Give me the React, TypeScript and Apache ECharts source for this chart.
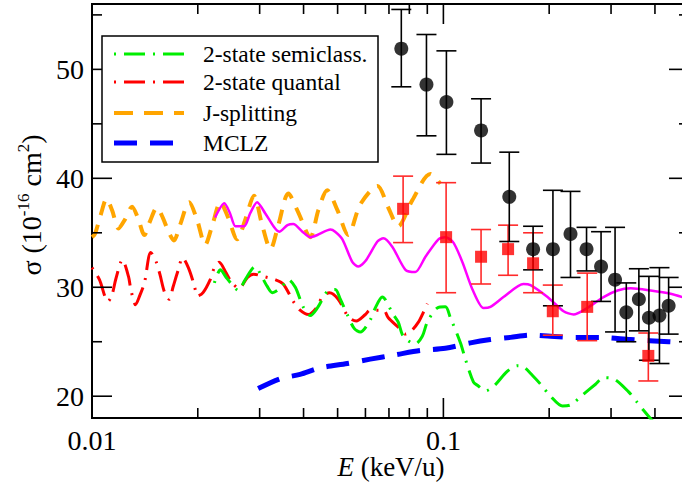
import React, { useEffect, useRef } from "react";
import * as echarts from "echarts";

const FONT = "'Liberation Serif', 'DejaVu Serif', 'Times New Roman', serif";

const X_MIN = 0.01;
const X_MAX = 0.5;
const Y_MIN = 18;
const Y_MAX = 56;

// Tick positions: [value, tick length in px]
const xTicks: [number, number][] = [
  [0.02, 10], [0.03, 10], [0.04, 10], [0.05, 10], [0.06, 10], [0.07, 10], [0.08, 10], [0.09, 10],
  [0.1, 20], [0.2, 10], [0.3, 10], [0.4, 10],
];
const yTicks: [number, number][] = [
  [20, 20], [25, 10], [30, 20], [35, 10], [40, 20], [45, 10], [50, 20], [55, 10],
];

// Cross sections, E (keV/u) vs sigma (1e-16 cm^2)
const semiclassical: [number, number][] = [
  [0.0223, 30.4], [0.0232, 31.6], [0.0241, 30.9], [0.0251, 30.2], [0.0261, 29.7], [0.0273, 30.7],
  [0.0291, 31.9], [0.0305, 30.9], [0.0315, 30.1], [0.0326, 29.5], [0.0346, 30.0], [0.0362, 30.7],
  [0.0379, 30.0], [0.0399, 28.2], [0.0418, 27.4], [0.0438, 28.1], [0.0467, 29.6], [0.0492, 29.8],
  [0.0509, 28.9], [0.0536, 27.3], [0.0558, 26.2], [0.058, 25.9], [0.0619, 27.0], [0.064, 28.1],
  [0.067, 29.1], [0.072, 27.5], [0.0744, 26.8], [0.0769, 25.5], [0.0832, 24.8], [0.0871, 25.5],
  [0.09, 26.8], [0.0961, 28.1], [0.1013, 28.2], [0.1047, 27.2], [0.1118, 24.9], [0.1155, 23.4],
  [0.1218, 21.3], [0.125, 21.0], [0.1318, 20.5], [0.1389, 20.9], [0.1522, 22.3], [0.1625, 22.8],
  [0.169, 22.7], [0.1793, 21.9], [0.189, 21.1], [0.2018, 20.0], [0.2183, 19.1], [0.2301, 19.2],
  [0.2506, 20.2], [0.271, 21.1], [0.2856, 21.7], [0.305, 21.6], [0.3366, 20.4], [0.3548, 19.5],
  [0.369, 18.8], [0.4018, 17.4],
];

const quantal: [number, number][] = [
  [0.01, 31.8], [0.0105, 30.7], [0.0109, 29.1], [0.0111, 28.7], [0.0114, 29.3], [0.0117, 30.8],
  [0.0122, 32.5], [0.0127, 31.0], [0.0129, 29.8], [0.0133, 28.4], [0.0137, 29.3], [0.0141, 30.4],
  [0.0147, 33.2], [0.0152, 32.4], [0.0156, 31.2], [0.0161, 29.5], [0.0166, 28.9], [0.017, 30.0],
  [0.0176, 31.6], [0.0181, 32.7], [0.0188, 31.8], [0.0195, 30.3], [0.02, 29.2], [0.0207, 29.5],
  [0.0217, 30.7], [0.0223, 31.8], [0.023, 32.3], [0.0241, 31.3], [0.0249, 30.5], [0.0262, 29.9],
  [0.0277, 30.9], [0.0288, 31.2], [0.0307, 31.0], [0.0332, 30.7], [0.035, 30.3], [0.0374, 28.7],
  [0.0391, 27.9], [0.0413, 27.5], [0.0435, 28.1], [0.0452, 29.1], [0.0474, 29.5], [0.0502, 28.9],
  [0.0536, 27.3], [0.0565, 26.9], [0.06, 27.5], [0.0619, 27.9], [0.0675, 27.9], [0.0697, 27.2],
  [0.074, 26.4], [0.078, 25.7], [0.0811, 26.0], [0.0849, 26.8], [0.0877, 27.7], [0.09, 28.5],
];

const jSplitting: [number, number][] = [
  [0.01, 34.6], [0.0102, 34.9], [0.0106, 36.7], [0.011, 38.1], [0.0114, 37.1], [0.0119, 35.4],
  [0.0124, 36.2], [0.013, 37.4], [0.0135, 36.4], [0.0141, 34.8], [0.0146, 36.0], [0.0153, 37.3],
  [0.0159, 36.4], [0.0165, 35.1], [0.0171, 34.3], [0.0178, 35.7], [0.0189, 37.8], [0.0199, 36.2],
  [0.021, 33.9], [0.022, 35.7], [0.0232, 37.8], [0.0244, 36.4], [0.0259, 34.4], [0.0273, 36.2],
  [0.0289, 38.4], [0.0305, 35.7], [0.0322, 33.5], [0.0339, 35.7], [0.0362, 38.6], [0.0386, 36.9],
  [0.0418, 34.6], [0.0441, 37.1], [0.0467, 38.9], [0.0499, 37.1], [0.0536, 34.8], [0.058, 37.6],
  [0.0649, 39.3], [0.0697, 37.3], [0.0744, 35.6], [0.0816, 38.0], [0.0918, 40.4], [0.0981, 39.5],
];

const mclz: [number, number][] = [
  [0.0297, 20.7], [0.0343, 21.6], [0.0391, 22.0], [0.0446, 22.6], [0.0533, 23.0], [0.0619, 23.4],
  [0.073, 23.8], [0.086, 24.2], [0.1013, 24.4], [0.1194, 24.9], [0.1361, 25.2], [0.1552, 25.4],
  [0.177, 25.6], [0.2018, 25.5], [0.2378, 25.4], [0.2801, 25.4], [0.341, 25.2], [0.4375, 25.0],
  [0.5, 24.9],
];

const fullCalc: [number, number][] = [
  [0.0224, 36.4], [0.0238, 37.7], [0.0247, 36.8], [0.0256, 35.6], [0.0271, 35.6], [0.0282, 36.8],
  [0.0295, 37.8], [0.0311, 36.8], [0.033, 35.5], [0.0341, 35.1], [0.036, 35.7], [0.0374, 35.8],
  [0.0397, 35.1], [0.0418, 34.6], [0.0438, 34.8], [0.0477, 35.3], [0.0492, 35.1], [0.0516, 34.4],
  [0.0551, 32.3], [0.0573, 31.9], [0.06, 32.4], [0.0649, 34.2], [0.0675, 34.5], [0.0716, 33.7],
  [0.078, 31.6], [0.0832, 31.4], [0.0889, 32.8], [0.0968, 34.4], [0.1013, 34.6], [0.1068, 34.1],
  [0.1133, 32.3], [0.121, 29.8], [0.13, 28.1], [0.1361, 28.2], [0.1482, 29.1], [0.169, 30.3],
  [0.177, 30.2], [0.1979, 29.1], [0.2198, 27.8], [0.2347, 27.5], [0.2539, 28.0], [0.2856, 29.1],
  [0.3131, 29.7], [0.341, 29.9], [0.3888, 29.7], [0.4434, 29.4], [0.5, 28.9],
];

// Measurements: [E, sigma, lower, upper]
const expBlack: [number, number, number, number][] = [
  [0.0759, 51.9, 48.4, 55.5], [0.0895, 48.6, 43.9, 53.2], [0.102, 47.0, 42.2, 51.7],
  [0.128, 44.4, 41.4, 47.3], [0.154, 38.3, 34.2, 42.4], [0.18, 33.5, 31.6, 35.6],
  [0.205, 33.5, 28.3, 38.9], [0.23, 34.9, 30.9, 38.8], [0.2555, 33.5, 31.5, 35.5],
  [0.281, 31.9, 28.7, 35.1], [0.308, 30.7, 25.9, 35.5], [0.3315, 27.7, 25.0, 30.4],
  [0.36, 28.9, 26.0, 31.7], [0.3845, 27.2, 23.3, 31.0], [0.412, 27.4, 23.0, 31.8],
  [0.4375, 28.3, 25.7, 30.9],
];

const expRed: [number, number, number, number][] = [
  [0.0768, 37.2, 34.1, 40.2], [0.1018, 34.6, 29.5, 39.6], [0.128, 32.8, 30.3, 35.3],
  [0.1528, 33.5, 31.1, 35.7], [0.18, 32.2, 29.5, 35.0], [0.2048, 27.8, 25.6, 30.2],
  [0.2566, 28.2, 25.1, 31.3], [0.383, 23.7, 21.4, 25.8],
];

const DOT_DASH = [2, 8, 21, 8];

function curve(name: string, data: [number, number][], color: string, width: number, dash: any, smooth: number) {
  return {
    type: "line",
    name,
    data,
    showSymbol: false,
    symbol: "none",
    smooth,
    clip: true,
    silent: true,
    z: 2,
    lineStyle: { color, width, type: dash, cap: "butt", join: "round" },
  };
}

function errorBars(rows: [number, number, number, number][], color: string) {
  return {
    type: "custom",
    silent: true,
    z: 3,
    data: rows.map((r) => [r[0], r[2], r[3]]),
    encode: { x: 0, y: [1, 2] },
    renderItem: (_p: any, api: any) => {
      const x = api.value(0);
      const lo = api.coord([x, api.value(1)]);
      const hi = api.coord([x, api.value(2)]);
      const w = 10;
      const style = { stroke: color, lineWidth: 1.6 };
      return {
        type: "group",
        children: [
          { type: "line", shape: { x1: lo[0], y1: lo[1], x2: hi[0], y2: hi[1] }, style },
          { type: "line", shape: { x1: lo[0] - w, y1: lo[1], x2: lo[0] + w, y2: lo[1] }, style },
          { type: "line", shape: { x1: hi[0] - w, y1: hi[1], x2: hi[0] + w, y2: hi[1] }, style },
        ],
      };
    },
  };
}

const legendRows = [
  { label: "2-state semiclass.", color: "#00ee00", width: 3, dash: DOT_DASH, y: 54 },
  { label: "2-state quantal", color: "#ff0000", width: 3, dash: DOT_DASH, y: 82 },
  { label: "J-splitting", color: "#ffa500", width: 4, dash: [19, 11], y: 113 },
  { label: "MCLZ", color: "#0000ff", width: 5, dash: [23, 13], y: 143 },
];

export default function App() {
  const ref = useRef<HTMLDivElement>(null);

  useEffect(() => {
    document.body.style.margin = "0";
    const chart = echarts.init(ref.current!, null, { renderer: "svg" });

    const legendGraphics: any[] = [
      {
        type: "rect",
        z: 100,
        shape: { x: 102, y: 36, width: 276, height: 126 },
        style: { fill: "#fff", stroke: "#000", lineWidth: 1.5 },
      },
    ];
    legendRows.forEach((r) => {
      legendGraphics.push({
        type: "line",
        z: 101,
        shape: { x1: 114, y1: r.y, x2: 184, y2: r.y },
        style: { stroke: r.color, lineWidth: r.width, lineDash: r.dash, lineCap: "butt" },
      });
      legendGraphics.push({
        type: "text",
        z: 101,
        x: 203,
        y: r.y,
        style: { text: r.label, fontSize: 23.5, fontFamily: FONT, fill: "#000", verticalAlign: "middle", align: "left" },
      });
    });

    const option: any = {
      animation: false,
      grid: {
        left: 92,
        right: -7,
        top: 4,
        bottom: 66,
        outerBoundsMode: "none",
        containLabel: false,
        show: true,
        borderColor: "#000",
        borderWidth: 2,
        backgroundColor: "transparent",
      },
      xAxis: {
        type: "log",
        logBase: 10,
        min: X_MIN,
        max: X_MAX,
        axisLine: { show: false },
        axisTick: { show: false },
        splitLine: { show: false },
        minorTick: { show: false },
        axisLabel: {
          showMinLabel: true,
          showMaxLabel: false,
          margin: 8,
          fontSize: 28,
          fontFamily: FONT,
          color: "#000",
          formatter: (v: number) =>
            Math.abs(v - 0.01) < 1e-7 ? "0.01" : Math.abs(v - 0.1) < 1e-6 ? "0.1" : "",
        },
      },
      yAxis: {
        type: "value",
        min: Y_MIN,
        max: Y_MAX,
        axisLine: { show: false },
        axisTick: { show: false },
        splitLine: { show: false },
        axisLabel: {
          margin: 8,
          fontSize: 28,
          fontFamily: FONT,
          color: "#000",
          showMinLabel: false,
          showMaxLabel: false,
          formatter: (v: number) => (Math.abs(v % 10) < 1e-6 ? String(v) : ""),
        },
      },
      graphic: [
        {
          type: "text",
          x: 30,
          y: 205,
          rotation: Math.PI / 2,
          style: {
            text: "{a|σ (10}{s|-16}{a| cm}{s|2}{a|)}",
            align: "center",
            verticalAlign: "middle",
            rich: {
              a: { fontSize: 28, fontFamily: FONT, lineHeight: 30, fill: "#000", verticalAlign: "bottom" },
              s: { fontSize: 17, fontFamily: FONT, lineHeight: 17, fill: "#000", verticalAlign: "top" },
            },
          },
        },
        {
          type: "text",
          x: 391,
          y: 467,
          style: {
            text: "{i|E} {a|(keV/u)}",
            align: "center",
            verticalAlign: "middle",
            rich: {
              i: { fontSize: 27, fontFamily: FONT, fontStyle: "italic", fill: "#000" },
              a: { fontSize: 27, fontFamily: FONT, fill: "#000" },
            },
            fontSize: 27,
            fontFamily: FONT,
            fill: "#000",
          },
        },
        ...legendGraphics,
      ],
      series: [
        curve("J-splitting", jSplitting, "#ffa500", 4, [14, 10], 0.3),
        curve("2-state quantal", quantal, "#ff0000", 3, DOT_DASH, 0.3),
        curve("2-state semiclass.", semiclassical, "#00ee00", 3, DOT_DASH, 0.3),
        curve("MCLZ", mclz, "#0000ff", 5, [23, 13], 0.3),
        curve("full", fullCalc, "#ff00ff", 2.5, "solid", 0.25),
        errorBars(expRed, "#ff2a2a"),
        errorBars(expBlack, "#000"),
        {
          type: "scatter",
          silent: true,
          z: 4,
          symbol: "rect",
          symbolSize: 12,
          itemStyle: { color: "#ff0000" },
          data: expRed.map((r) => [r[0], r[1]]),
        },
        {
          type: "scatter",
          silent: true,
          z: 4,
          symbol: "circle",
          symbolSize: 14,
          itemStyle: { color: "#000" },
          data: expBlack.map((r) => [r[0], r[1]]),
        },
        {
          type: "custom",
          silent: true,
          z: 5,
          data: xTicks.map((t) => [t[0], Y_MIN, t[1]]),
          encode: { x: 0, y: 1 },
          renderItem: (_p: any, api: any) => {
            const x = api.value(0);
            const len = api.value(2);
            const b = api.coord([x, Y_MIN]);
            const t = api.coord([x, Y_MAX]);
            const style = { stroke: "#000", lineWidth: 1.6 };
            return {
              type: "group",
              children: [
                { type: "line", shape: { x1: b[0], y1: b[1], x2: b[0], y2: b[1] - len }, style },
                { type: "line", shape: { x1: t[0], y1: t[1], x2: t[0], y2: t[1] + len }, style },
              ],
            };
          },
        },
        {
          type: "custom",
          silent: true,
          z: 5,
          data: yTicks.map((t) => [X_MIN, t[0], t[1]]),
          encode: { x: 0, y: 1 },
          renderItem: (_p: any, api: any) => {
            const y = api.value(1);
            const len = api.value(2);
            const l = api.coord([X_MIN, y]);
            const r = api.coord([X_MAX, y]);
            const style = { stroke: "#000", lineWidth: 1.6 };
            return {
              type: "group",
              children: [
                { type: "line", shape: { x1: l[0], y1: l[1], x2: l[0] + len, y2: l[1] }, style },
                { type: "line", shape: { x1: r[0], y1: r[1], x2: r[0] - len, y2: r[1] }, style },
              ],
            };
          },
        },
      ],
    };

    chart.setOption(option);
    return () => chart.dispose();
  }, []);

  return <div ref={ref} style={{ width: 682, height: 484 }} />;
}
